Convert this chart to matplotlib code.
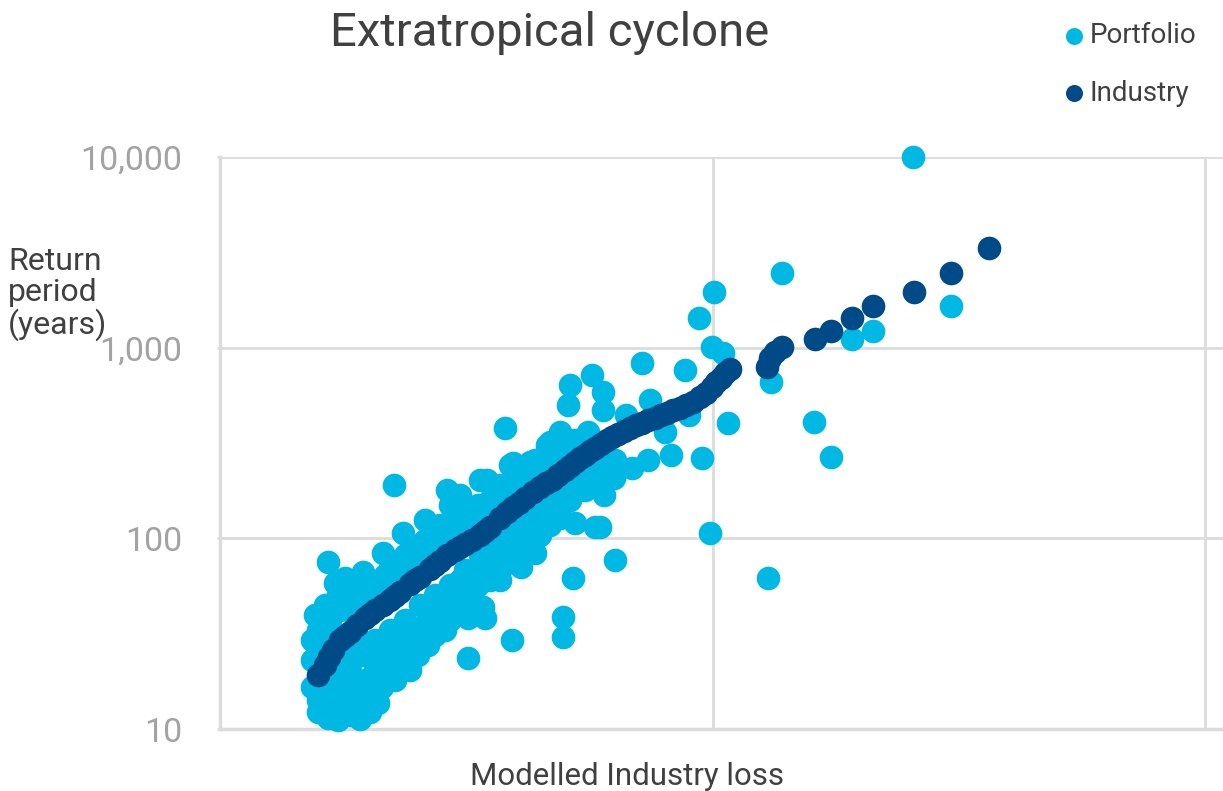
import matplotlib.pyplot as plt
from matplotlib.ticker import NullLocator

plt.rcParams['font.family'] = ['Roboto', 'DejaVu Sans']

# modelled industry loss (arbitrary units, gridlines every 500) and return period (years)
industry_loss = [99, 107, 111, 115, 122, 127, 132, 139, 147, 152, 157, 165, 173, 178, 183,
                 193, 198, 203, 213, 218, 223, 230, 239, 244, 249, 256, 264, 269, 274, 284,
                 291, 297, 303, 310, 318, 325, 331, 337, 343, 350, 355, 360, 365, 370, 376,
                 381, 387, 393, 398, 404, 410, 416, 422, 428, 434, 442, 448, 454, 460, 467,
                 473, 480, 487, 493, 499, 503, 508, 513, 518, 555, 558, 563, 570, 604, 620,
                 641, 663, 704, 742, 780]
industry_rp = [19.2, 21.7, 23.8, 26.0, 29.3, 30.7, 32.3, 35.1, 38.2, 40.1, 42.1, 44.7, 47.5,
               49.8, 52.3, 57.6, 60.5, 62.7, 69.0, 72.4, 76.1, 81.8, 86.9, 89.9, 93.4, 98.0,
               104, 109, 115, 128, 137, 146, 153, 163, 175, 186, 196, 202, 215, 228, 239,
               251, 264, 274, 287, 298, 312, 328, 340, 353, 366, 379, 394, 403, 417, 428,
               444, 454, 471, 483, 500, 519, 551, 578, 622, 661, 693, 736, 773, 792, 883,
               949, 1008, 1110, 1223, 1430, 1654, 1959, 2464, 3332]

portfolio_loss = [
    # outliers and sparse points
    703, 570, 501, 486, 499, 511, 428, 472, 742, 663, 641, 559, 436, 389, 378, 412, 476,
    516, 603, 452, 620, 458, 489, 434, 418, 400, 390, 386, 497, 401, 556, 355, 353, 389,
    289, 177, 335, 373, 358, 297, 315, 271, 379, 360, 381, 358, 348, 348, 296, 252, 269,
    252, 348, 320, 305, 257, 267, 249, 345,
    # cloud above the industry curve
    110, 117, 107, 96, 145, 165, 186, 208, 230, 233, 264, 294, 332, 122, 132, 127, 152,
    173, 188, 203, 218, 239, 252, 274, 284, 305, 325, 340, 348, 376, 244, 147, 198, 223,
    102, 112,
    99, 110, 120, 130, 140, 157, 167, 178, 183, 193, 198, 208, 215, 223, 233, 244, 254,
    262, 274, 279, 289, 299, 310, 320, 330, 340, 345, 360, 345,
    127, 142, 154, 134, 167, 178, 188, 203, 220, 239, 249, 269, 282, 305,
    # cloud below the industry curve
    93, 93, 93, 99, 99, 110, 120, 142, 160, 164, 193, 211, 228, 235, 107, 112, 127, 137,
    127, 147, 157, 173, 183, 198, 208, 223, 112, 178, 142, 122,
    244, 264, 279, 289, 305, 320, 333, 340, 355, 368, 239, 223, 284, 315,
    104, 104, 132, 152, 147, 178, 188, 201, 218, 233, 244, 254, 262, 274, 284, 294, 302,
    310, 325, 335, 345, 355, 370, 376, 386, 401, 132, 142, 157, 173, 188, 203, 218, 233,
    249, 264, 279, 294, 310, 325, 340, 122, 137,
    117, 132, 142, 152, 162, 167, 183, 193, 213, 223, 239, 254, 269, 279, 289, 299, 315,
    330, 337, 350, 360, 376]
portfolio_rp = [
    10000, 2460, 1960, 1430, 1010, 938, 831, 764, 1654, 1223, 1110, 661, 532, 585, 719, 444,
    444, 403, 408, 361, 267, 274, 264, 258, 234, 207, 169, 115, 107, 77.0, 62.0, 637, 500,
    471, 379, 190, 320, 361, 316, 248, 251, 202, 197, 120, 115, 62.0, 38.7, 30.4, 29.3,
    23.6, 38.2, 38.2, 153, 83.8, 70.7, 51.7, 43.6, 40.6, 128,
    75.1, 58.3, 44.7, 39.6, 66.6, 83.8, 107, 125, 179, 150, 202, 242, 309, 42.1, 50.4, 61.9,
    56.9, 69.9, 81.8, 92.3, 111, 122, 141, 159, 190, 207, 228, 258, 298, 328, 169, 47.5,
    77.0, 98.0, 31.1, 35.1,
    33.1, 42.1, 50.4, 56.9, 53.6, 58.3, 64.2, 75.1, 64.2, 77.0, 89.0, 98.0, 86.9, 117, 111,
    132, 125, 150, 141, 179, 169, 202, 228, 258, 243, 291, 258, 328, 361,
    44.7, 47.5, 50.4, 41.1, 54.9, 60.5, 68.2, 77.0, 98.0, 104, 111, 132, 153, 184,
    29.3, 23.0, 16.6, 14.2, 12.3, 11.4, 11.1, 11.3, 13.7, 16.6, 20.4, 27.6, 33.1, 43.6, 16.0,
    13.4, 13.4, 15.5, 18.1, 18.1, 20.9, 23.0, 26.0, 29.3, 35.1, 39.6, 18.1, 19.2, 14.2, 15.6,
    60.5, 68.2, 77.0, 92.3, 104, 122, 141, 169, 190, 223, 50.4, 47.5, 60.5, 86.9,
    24.4, 14.2, 11.8, 12.3, 15.1, 18.1, 22.5, 24.4, 31.1, 37.3, 44.7, 44.7, 56.9, 60.5, 68.2,
    77.0, 86.9, 92.3, 104, 117, 150, 159, 179, 228, 243, 258, 26.0, 29.3, 29.3, 33.1, 37.3,
    44.7, 50.4, 56.9, 68.2, 81.8, 92.3, 111, 125, 141, 169, 21.7, 24.4,
    19.2, 21.7, 24.4, 26.0, 27.6, 23.0, 29.3, 33.1, 39.6, 47.5, 53.6, 53.6, 64.2, 72.4, 81.8,
    92.3, 108, 122, 141, 179, 202, 202]

y_ticks = [10, 100, 1000, 10000]
y_labels = ['10', '100', '1,000', '10,000']

light = '#00b8e4'
dark = '#004b87'
text_col = '#404040'
grid_col = '#dcdcdc'

fig = plt.figure(figsize=(12.23, 7.91), dpi=100)
ax = fig.add_axes([220 / 1223, 1 - 729 / 791, 1 - 220 / 1223, (729 - 157) / 791])

p = ax.scatter(portfolio_loss, portfolio_rp, s=290, color=light, linewidths=0,
               label='Portfolio', clip_on=False, zorder=3)
i = ax.scatter(industry_loss, industry_rp, s=290, color=dark, linewidths=0,
               label='Industry', clip_on=False, zorder=4)

ax.set_yscale('log')
ax.set_ylim(10, 10000)
ax.set_xlim(0, 1018)
ax.set_yticks(y_ticks)
ax.set_yticklabels(y_labels)
ax.yaxis.set_minor_locator(NullLocator())
ax.set_xticks([0, 500, 1000])
ax.set_xticklabels([])
ax.tick_params(axis='x', length=0)
ax.tick_params(axis='y', length=2, width=2, color=grid_col, pad=25,
               labelsize=24.5, labelcolor='#a3a3a3')
ax.grid(True, color=grid_col, linewidth=2)
ax.set_axisbelow(True)
for side in ['top', 'right']:
    ax.spines[side].set_visible(False)
for side in ['left', 'bottom']:
    ax.spines[side].set_color(grid_col)
    ax.spines[side].set_linewidth(2.5)

fig.text(549.5 / 1223, 1 - 46 / 791, 'Extratropical cyclone', ha='center',
         va='baseline', fontsize=34, color=text_col)
fig.text(626.5 / 1223, 1 - 785 / 791, 'Modelled Industry loss', ha='center',
         va='baseline', fontsize=22.5, color=text_col)
fig.text(8 / 1223, 1 - 294 / 791, 'Return\nperiod\n(years)', ha='left', va='center',
         fontsize=23, color=text_col, linespacing=1.05)

fig.legend(handles=[p, i], loc='upper left', bbox_to_anchor=(1066 / 1223, 1 - 22 / 791),
           frameon=False, fontsize=20, labelcolor=text_col, markerscale=0.72,
           handlelength=0.6, handletextpad=0.24, labelspacing=1.1, borderpad=0,
           borderaxespad=0, scatterpoints=1)

plt.savefig('out.png', dpi=100)
